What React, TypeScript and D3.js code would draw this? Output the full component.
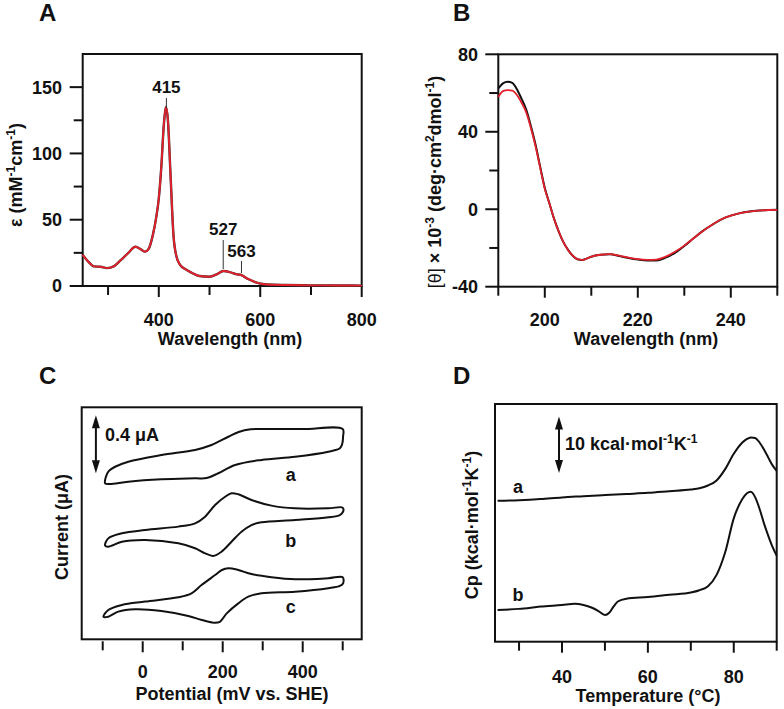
import React from 'react';
import * as d3 from 'd3';

const FONT = '"Liberation Sans", Arial, Helvetica, sans-serif';
const RED = '#e3202b';

// Panel A: UV-vis absorption spectrum
const absWavelength = [250, 262, 272, 285, 298, 312, 325, 340, 354, 364, 373, 380, 388, 395, 400, 405, 410, 414, 418, 423, 429, 435, 442, 452, 465, 480, 500, 515, 527, 540, 552, 563, 575, 590, 605, 625, 650, 700, 750, 800];
const absEps = [23.5, 18, 14.8, 14.5, 13.5, 15, 19.5, 25, 29.6, 27.8, 25.9, 28, 38, 52, 66, 90, 122, 135, 125, 85, 38, 22, 16, 12.8, 10, 7.5, 7, 9, 11.3, 10.5, 9, 8.2, 5.5, 3, 1.5, 0.9, 0.7, 0.5, 0.4, 0.3];
const absPeaks = [415, 527, 563];

// Panel B: CD spectra
const cdWavelength = [190, 191, 192, 193, 194, 195, 196, 197, 198, 199, 200, 201, 202, 203, 204, 205, 206, 207, 208, 209, 210, 212, 214, 216, 218, 220, 222, 224, 226, 228, 230, 232, 234, 236, 238, 240, 242, 244, 246, 248, 250];
const cdBlack = [62.4, 65, 65.8, 65.2, 62, 57, 51.5, 43, 33.5, 22, 11, 3, -5, -11.5, -17, -21, -24, -25.8, -26.2, -25.5, -24.5, -23.5, -23.2, -24.2, -25.2, -26, -26.5, -26.5, -25, -22.5, -19, -15, -11.2, -8, -5.2, -3.3, -2, -1.2, -0.7, -0.4, -0.3];
const cdRed = [58, 61, 61.5, 61.2, 59, 55, 50, 42, 32.5, 21.5, 10.5, 3, -5, -11.5, -17, -21, -24, -25.8, -26.2, -25.5, -24.5, -23.5, -23.2, -24, -25, -25.8, -26.2, -26, -24.5, -22, -18.8, -15, -11.2, -8, -5.2, -3.3, -2, -1.2, -0.7, -0.4, -0.3];

// Panel C: cyclic voltammograms (closed loops: forward then reverse)
const cvPotA = [-94, -92, -85, -69, -36, 47, 131, 172, 214, 240, 270, 300, 400, 500, 501, 499, 493, 464, 381, 297, 231, 189, 160, 131, 47, -36, -83];
const cvCurA = [1.076, 1.12, 1.16, 1.19, 1.225, 1.271, 1.306, 1.34, 1.397, 1.43, 1.448, 1.45, 1.45, 1.45, 1.4, 1.35, 1.317, 1.294, 1.259, 1.237, 1.202, 1.145, 1.112, 1.11, 1.103, 1.087, 1.071];
const cvPotB = [-94, -86, -52, 6, 89, 131, 156, 181, 206, 222, 239, 272, 322, 381, 464, 500, 501, 493, 464, 381, 297, 272, 247, 222, 197, 176, 156, 131, 89, 6, -52, -86];
const cvCurB = [0.646, 0.696, 0.731, 0.754, 0.777, 0.8, 0.846, 0.926, 0.983, 1.007, 1.0, 0.961, 0.922, 0.903, 0.903, 0.908, 0.88, 0.857, 0.841, 0.823, 0.807, 0.788, 0.742, 0.673, 0.604, 0.575, 0.593, 0.628, 0.662, 0.685, 0.673, 0.639];
const cvPotC = [-98, -86, -52, 6, 89, 122, 147, 181, 198, 214, 239, 272, 322, 381, 464, 500, 501, 493, 464, 381, 297, 264, 239, 210, 193, 176, 148, 114, 47, -19, -61, -86];
const cvCurC = [0.156, 0.202, 0.237, 0.26, 0.29, 0.317, 0.374, 0.443, 0.478, 0.49, 0.478, 0.45, 0.428, 0.414, 0.421, 0.428, 0.386, 0.368, 0.352, 0.328, 0.317, 0.294, 0.248, 0.179, 0.121, 0.115, 0.133, 0.161, 0.195, 0.207, 0.191, 0.156];
const cvLabels = ['a', 'b', 'c'];

// Panel D: DSC thermograms
const dscTempA = [25, 30, 35, 40, 45, 50, 55, 60, 65, 70, 72, 74, 76, 78, 80, 82, 83, 84, 85, 86, 87, 88, 89, 90];
const dscCpA = [24.9, 25.0, 25.2, 25.5, 25.7, 25.9, 26.1, 26.3, 26.6, 26.9, 27.1, 27.6, 28.5, 30.5, 33.2, 35.2, 35.8, 36.1, 36, 35.2, 34, 32.6, 31.2, 30.2];
const dscTempB = [25, 30, 35, 40, 43, 45, 47, 48.5, 50, 51, 52, 53, 55, 60, 65, 70, 72, 74, 76, 78, 80, 82, 83, 84, 85, 86, 87, 88, 89, 90];
const dscCpB = [5.6, 5.8, 6.2, 6.5, 6.7, 6.5, 6, 5.4, 4.7, 5.1, 6.2, 7.1, 7.6, 7.9, 8.3, 8.7, 9.1, 9.8, 11.8, 15.8, 21.8, 25.2, 26.2, 26.5, 25.5, 23.5, 21, 18.8, 16.8, 15.2];

const txt = { fontFamily: FONT, fontWeight: 700, fill: '#111' } as const;

function Frame({ x, y }: { x: d3.ScaleLinear<number, number>; y: d3.ScaleLinear<number, number> }) {
  const [x0, x1] = x.range();
  const [y0, y1] = y.range();
  return <rect x={x0} y={y1} width={x1 - x0} height={y0 - y1} fill="none" stroke="#111" strokeWidth={2} />;
}

function XTicks({ x, y0, ticks, major, gap = 0, fmt = (v: number) => String(v), labelY }: any) {
  return (
    <g>
      {ticks.map((t: number) => {
        const isMajor = major(t);
        return (
          <g key={t}>
            <line x1={x(t)} x2={x(t)} y1={y0 + gap} y2={y0 + gap + (isMajor ? 11 : 9)} stroke="#111" strokeWidth={2} />
            {isMajor && (
              <text x={x(t)} y={labelY} textAnchor="middle" fontSize={18} style={txt}>{fmt(t)}</text>
            )}
          </g>
        );
      })}
    </g>
  );
}

function YTicks({ y, x0, ticks, major, labelX }: any) {
  return (
    <g>
      {ticks.map((t: number) => {
        const isMajor = major(t);
        return (
          <g key={t}>
            <line x1={x0 - (isMajor ? 13 : 9)} x2={x0} y1={y(t)} y2={y(t)} stroke="#111" strokeWidth={2} />
            {isMajor && (
              <text x={labelX} y={y(t)} dy="0.36em" textAnchor="end" fontSize={18} style={txt}>{t}</text>
            )}
          </g>
        );
      })}
    </g>
  );
}

function ScaleBar({ x, yTop, yBot }: { x: number; yTop: number; yBot: number }) {
  const w = 4;
  const h = 13;
  return (
    <g fill="#111" stroke="#111">
      <line x1={x} x2={x} y1={yTop + 4} y2={yBot - 4} strokeWidth={2} />
      <path d={`M${x},${yTop} L${x - w},${yTop + h} L${x + w},${yTop + h} Z`} stroke="none" />
      <path d={`M${x},${yBot} L${x - w},${yBot - h} L${x + w},${yBot - h} Z`} stroke="none" />
    </g>
  );
}

function Sup({ children }: { children: React.ReactNode }) {
  return <tspan fontSize={12} dy={-7}>{children}</tspan>;
}

export default function App() {
  // ---- Panel A
  const xA = d3.scaleLinear().domain([250, 800]).range([82.7, 361.7]);
  const yA = d3.scaleLinear().domain([0, 175]).range([286, 54]);
  const lineA = d3.line<number>().x((_, i) => xA(absWavelength[i])).y((d) => yA(d)).curve(d3.curveMonotoneX);
  const epsAt = (w: number) => {
    const i = d3.bisectLeft(absWavelength, w);
    if (absWavelength[i] === w) return absEps[i];
    const t = (w - absWavelength[i - 1]) / (absWavelength[i] - absWavelength[i - 1]);
    return absEps[i - 1] + t * (absEps[i] - absEps[i - 1]);
  };
  const peakLabelY: Record<number, number> = { 415: 93, 527: 235, 563: 257 };
  const peakLineTop: Record<number, number> = { 415: 98, 527: 240, 563: 261 };

  // ---- Panel B
  const xB = d3.scaleLinear().domain([190, 250]).range([498.3, 777.3]);
  const yB = d3.scaleLinear().domain([-40, 80]).range([286.7, 54.3]);
  const lineB = (vals: number[]) =>
    d3.line<number>().x((_, i) => xB(cdWavelength[i])).y((d) => yB(d)).curve(d3.curveMonotoneX)(vals) || '';

  // ---- Panel C
  const xC = d3.scaleLinear().domain([-152.5, 547.5]).range([81.7, 361.7]);
  const yC = d3.scaleLinear().domain([0, 1.6]).range([639.3, 407.3]);
  const cvs = [
    [cvPotA, cvCurA],
    [cvPotB, cvCurB],
    [cvPotC, cvCurC],
  ];
  const cvLabelPos = [[370, 1.09], [370, 0.64], [370, 0.18]];
  const lineC = (pot: number[], cur: number[]) =>
    d3.line<number>().x((_, i) => xC(pot[i])).y((d) => yC(d)).curve(d3.curveCatmullRomClosed.alpha(0.5))(cur) || '';

  // ---- Panel D
  const xD = d3.scaleLinear().domain([24.4, 90]).range([495, 776.7]);
  const yD = d3.scaleLinear().domain([0, 42]).range([641.7, 404]);
  const lineD = (ts: number[], vs: number[]) =>
    d3.line<number>().x((_, i) => xD(ts[i])).y((d) => yD(d)).curve(d3.curveMonotoneX)(vs) || '';

  return (
    <svg width={784} height={709} style={{ position: 'absolute', left: 0, top: 0, background: '#fff' }}>
      {/* panel letters */}
      <text x={39} y={21} fontSize={24} style={txt}>A</text>
      <text x={453} y={21} fontSize={24} style={txt}>B</text>
      <text x={39} y={384} fontSize={24} style={txt}>C</text>
      <text x={453} y={384} fontSize={24} style={txt}>D</text>

      {/* ===== A ===== */}
      <Frame x={xA} y={yA} />
      <XTicks x={xA} y0={286} ticks={d3.range(300, 801, 100)} major={(t: number) => t % 200 === 0} labelY={326} />
      <YTicks y={yA} x0={82.7} ticks={d3.range(0, 151, 25)} major={(t: number) => t % 50 === 0} labelX={62} />
      <path d={lineA(absEps) || ''} fill="none" stroke="#333" strokeWidth={2.4} />
      <path d={lineA(absEps) || ''} fill="none" stroke={RED} strokeWidth={1.9} />
      {absPeaks.map((p) => (
        <g key={p}>
          <line x1={xA(p)} x2={xA(p)} y1={peakLineTop[p]} y2={yA(epsAt(p)) - 2} stroke="#333" strokeWidth={1} />
          <text x={xA(p)} y={peakLabelY[p]} textAnchor="middle" fontSize={17} style={txt}>{p}</text>
        </g>
      ))}
      <text x={230} y={345} textAnchor="middle" fontSize={18} style={txt}>Wavelength (nm)</text>
      <text transform="translate(16,175) rotate(-90)" textAnchor="middle" dy="0.36em" fontSize={18} style={txt}>
        ε (mM<Sup>-1</Sup><tspan dy={7}>cm</tspan><Sup>-1</Sup><tspan dy={7}>)</tspan>
      </text>

      {/* ===== B ===== */}
      <Frame x={xB} y={yB} />
      <XTicks x={xB} y0={286.7} ticks={d3.range(190, 251, 10)} major={(t: number) => t % 20 === 0} labelY={326} />
      <YTicks y={yB} x0={498.3} ticks={d3.range(-40, 81, 20)} major={(t: number) => t % 40 === 0} labelX={478} />
      <path d={lineB(cdBlack)} fill="none" stroke="#111" strokeWidth={2} />
      <path d={lineB(cdRed)} fill="none" stroke={RED} strokeWidth={1.8} />
      <text x={646} y={345} textAnchor="middle" fontSize={18} style={txt}>Wavelength (nm)</text>
      <text transform="translate(435,182) rotate(-90)" textAnchor="middle" dy="0.36em" fontSize={18} style={txt}>
        <tspan fontWeight={400}>[θ]</tspan> × 10<Sup>-3</Sup><tspan dy={7}> (deg·cm</tspan><Sup>2</Sup><tspan dy={7}>dmol</tspan><Sup>-1</Sup><tspan dy={7}>)</tspan>
      </text>

      {/* ===== C ===== */}
      <Frame x={xC} y={yC} />
      <XTicks x={xC} y0={639.3} gap={2} ticks={d3.range(-100, 501, 100)} major={(t: number) => t % 200 === 0} labelY={678} />
      {cvs.map(([p, c], i) => (
        <path key={i} d={lineC(p, c)} fill="none" stroke="#111" strokeWidth={2} />
      ))}
      {cvLabels.map((l, i) => (
        <text key={l} x={xC(cvLabelPos[i][0])} y={yC(cvLabelPos[i][1])} textAnchor="middle" fontSize={18} style={txt}>{l}</text>
      ))}
      <ScaleBar x={xC(-117)} yTop={yC(1.546)} yBot={yC(1.146)} />
      <text x={105} y={441} fontSize={18} style={txt}>0.4 μA</text>
      <text x={232} y={700} textAnchor="middle" fontSize={18} style={txt}>Potential (mV vs. SHE)</text>
      <text transform="translate(62,527) rotate(-90)" textAnchor="middle" dy="0.36em" fontSize={18} style={txt}>Current (μA)</text>

      {/* ===== D ===== */}
      <Frame x={xD} y={yD} />
      <XTicks x={xD} y0={641.7} ticks={d3.range(30, 91, 10)} major={(t: number) => t % 20 === 0} labelY={683} />
      <path d={lineD(dscTempA, dscCpA)} fill="none" stroke="#111" strokeWidth={2} />
      <path d={lineD(dscTempB, dscCpB)} fill="none" stroke="#111" strokeWidth={2} />
      <text x={518} y={493} textAnchor="middle" fontSize={18} style={txt}>a</text>
      <text x={518} y={601} textAnchor="middle" fontSize={18} style={txt}>b</text>
      <ScaleBar x={xD(39.3)} yTop={yD(39.8)} yBot={yD(29.8)} />
      <text x={565} y={450} fontSize={18} style={txt}>
        10 kcal·mol<Sup>-1</Sup><tspan dy={7}>K</tspan><Sup>-1</Sup>
      </text>
      <text x={648} y={702} textAnchor="middle" fontSize={18} style={txt}>Temperature (°C)</text>
      <text transform="translate(472,525) rotate(-90)" textAnchor="middle" dy="0.36em" fontSize={18} style={txt}>
        Cp (kcal·mol<Sup>-1</Sup><tspan dy={7}>K</tspan><Sup>-1</Sup><tspan dy={7}>)</tspan>
      </text>
    </svg>
  );
}
